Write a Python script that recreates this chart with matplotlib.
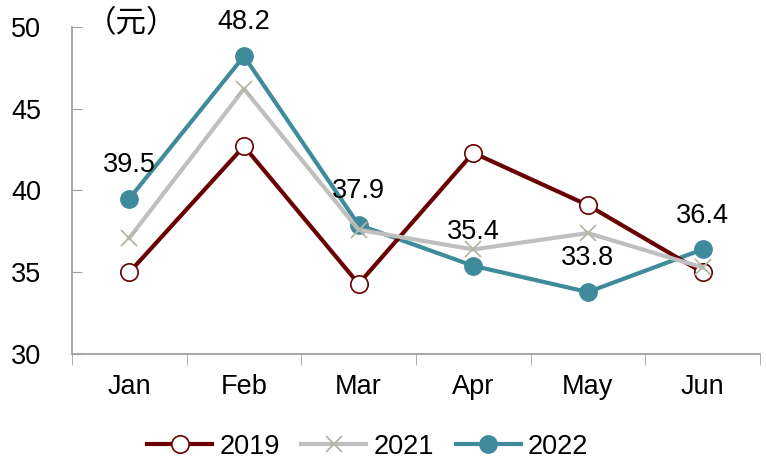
import numpy as np
import matplotlib.pyplot as plt

plt.rcParams['font.family'] = ['Liberation Sans', 'Noto Sans CJK SC', 'DejaVu Sans']

months = ['Jan', 'Feb', 'Mar', 'Apr', 'May', 'Jun']
v2019 = [35.0, 42.7, 34.3, 42.3, 39.1, 35.0]
v2021 = [37.1, 46.2, 37.6, 36.4, 37.4, 35.3]
v2022 = [39.5, 48.2, 37.9, 35.4, 33.8, 36.4]

c19 = '#6B0000'
c21 = '#BFBFBF'
c22 = '#3F8A9B'

fig = plt.figure(figsize=(7.66, 4.68), dpi=100)
ax = fig.add_axes([0.094, 0.243, 0.898, 0.700])

x = np.arange(len(months))
ax.plot(x, v2022, color=c22, lw=3, marker='o', ms=12.5, mfc=c22, mec=c22, label='2022', zorder=3)
ax.plot(x, v2019, color=c19, lw=3, marker='o', ms=12.5, mfc='white', mec=c19, mew=1.2, label='2019', zorder=4)
ax.plot(x, v2021, color=c21, lw=3, marker='x', ms=11, mec='#B5B5A5', mew=1.3, label='2021', zorder=5)

for xi, v in zip(x, v2022):
    ax.annotate('%.1f' % v, (xi, v), xytext=(0, 15), textcoords='offset points',
                ha='center', va='bottom', fontsize=19.5)

ax.set_xlim(-0.5, 5.5)
ax.set_ylim(30, 50)
ax.set_yticks([30, 35, 40, 45, 50])
ax.set_xticks(x)
ax.set_xticklabels(months)
ax.set_xticks(np.arange(-0.5, 6, 1), minor=True)
ax.tick_params(axis='y', direction='in', length=7, color='#A0A0A0', labelsize=19.5, pad=22)
ax.tick_params(axis='x', which='major', length=0, labelsize=19.5, pad=14)
ax.tick_params(axis='x', which='minor', direction='out', length=8, color='#A0A0A0')
for s in ['top', 'right']:
    ax.spines[s].set_visible(False)
for s in ['left', 'bottom']:
    ax.spines[s].set_color('#A0A0A0')
    ax.spines[s].set_linewidth(1.3)

ax.text(0.02, 1.01, '（元）', transform=ax.transAxes, fontsize=22, va='center', ha='left',
        family=['Noto Sans CJK SC', 'DejaVu Sans'])

h, l = ax.get_legend_handles_labels()
order = [1, 2, 0]
fig.legend([h[i] for i in order], [l[i] for i in order], loc='center', bbox_to_anchor=(0.48, 0.045),
           ncol=3, frameon=False, fontsize=19.5, handlelength=2.4, handletextpad=0.26, columnspacing=0.8)

fig.savefig('out.png', dpi=100)
